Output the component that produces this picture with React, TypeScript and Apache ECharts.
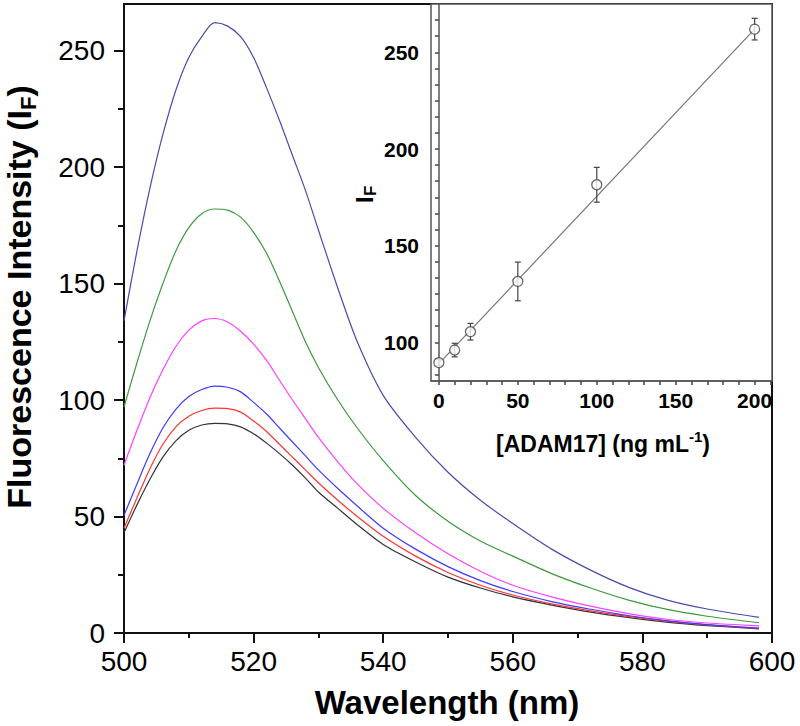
import React, { useEffect, useRef } from "react";
import * as echarts from "echarts";

// ---- Main spectra data ----
const wavelengths = [500, 502, 504, 506, 508, 510, 512, 514, 516, 518, 520, 522, 524, 526, 528, 530, 533, 536, 540, 545, 550, 555, 560, 566, 572, 578, 584, 590, 598];
const spec0 = [43, 55, 66, 75.5, 82.5, 87, 89.3, 90, 89.8, 88.5, 85.5, 81.5, 77, 72, 66.5, 60.5, 53.5, 46.5, 38, 30.5, 24, 19.3, 15.5, 12, 9, 6.6, 4.6, 3.2, 1.8];
const spec10 = [45, 58, 70.5, 81, 88.5, 93, 95.5, 96.5, 96.3, 94.8, 91, 86.5, 81, 75.5, 70, 64.5, 57, 50, 41.5, 33, 26, 20.5, 16.3, 12.5, 9.5, 7, 5, 3.5, 2];
const spec20 = [50.5, 64, 77, 88, 96, 101.5, 104.5, 106, 105.5, 103.5, 99, 94, 88, 82, 76, 70, 62, 54.5, 45, 36, 28.5, 22.5, 17.8, 13.5, 10.2, 7.4, 5.2, 3.6, 2.1];
const spec50 = [72, 87, 101, 113, 123, 130, 134, 135, 133.5, 129.5, 124, 117, 108.5, 100, 92, 84, 73.5, 64, 53.5, 43, 34, 26.5, 20.5, 15.5, 11.5, 8.2, 5.8, 4.3, 3.1];
const spec100 = [97, 116, 134, 150, 164, 174, 180, 182, 181.5, 178.5, 172, 163, 151, 138, 125, 114, 100, 88, 74, 59, 48, 39.5, 33, 25.5, 19.3, 14, 10, 7.2, 4.4];
const spec200 = [134, 164, 191, 214, 233, 247, 256, 262, 260.5, 256, 247, 234, 220, 205, 190, 173, 148, 125, 102, 84, 69, 57, 47, 36, 27, 19.5, 14, 10.3, 6.7];
const specColors = ["#333333", "#ff3333", "#3c3cff", "#ff40ff", "#3c9a3c", "#4a4aad"];
const mainYTicks = [0, 50, 100, 150, 200, 250];
const mainYMinor = [25, 75, 125, 175, 225];

// ---- Inset data ----
const concentrations = [0, 10, 20, 50, 100, 200];
const meanIF = [89.5, 96, 105.5, 131.5, 181.5, 262];
const errIF = [1.5, 3.5, 4.3, 10, 9, 5.6];
const fitX = [0, 200];
const fitY = [89, 262];
const insetXLabels = [0, 50, 100, 150, 200];
const insetYLabels = [100, 150, 200, 250];

const FONT = "'Liberation Sans', Arial, sans-serif";

function measure(text: string, font: string): number {
  const c = document.createElement("canvas");
  const ctx = c.getContext("2d");
  if (!ctx) return text.length * 18;
  ctx.font = font;
  return ctx.measureText(text).width;
}

export default function App() {
  const ref = useRef<HTMLDivElement>(null);
  useEffect(() => {
    if (!ref.current) return;
    const chart = echarts.init(ref.current, null, { renderer: "svg" });
    const specs = [spec0, spec10, spec20, spec50, spec100, spec200];
    const insetXTicks: number[] = [];
    for (let v = 0; v <= 210; v += 10) insetXTicks.push(v);
    const insetYTicks: number[] = [];
    for (let k = -2; k <= 20; k++) insetYTicks.push(+(100 + (k * 50) / 6).toFixed(3));

    // y-axis title pieces (rotated group)
    const fBig = `bold 34px ${FONT}`;
    const fSub = `bold 22px ${FONT}`;
    const t1 = "Fluorescence Intensity (I";
    const t2 = "F";
    const t3 = ")";
    const w1 = measure(t1, fBig);
    const w2 = measure(t2, fSub);
    const w3 = measure(t3, fBig);
    const W = w1 + w2 + w3;

    const option: any = {
      animation: false,
      backgroundColor: "#ffffff",
      grid: [
        { left: 124, right: 28, top: 4, bottom: 93, show: true, borderColor: "#111", borderWidth: 2, backgroundColor: "transparent" },
        { left: 431, right: 28, top: 4, bottom: 345, show: true, borderColor: "#555", borderWidth: 1.5, backgroundColor: "#ffffff" },
      ],
      xAxis: [
        {
          type: "value", gridIndex: 0, min: 500, max: 600, interval: 20,
          axisLine: { show: true, lineStyle: { color: "#111", width: 2 } },
          axisTick: { show: true, inside: false, length: 10, lineStyle: { color: "#111", width: 2 } },
          minorTick: { show: true, splitNumber: 2, length: 5, lineStyle: { color: "#111", width: 2 } },
          splitLine: { show: false }, minorSplitLine: { show: false },
          axisLabel: { fontSize: 28, fontFamily: FONT, color: "#000", margin: 14 },
        },
        {
          type: "value", gridIndex: 1, min: -5, max: 211,
          axisLine: { show: true, lineStyle: { color: "#555", width: 1.5 } },
          axisTick: { show: true, inside: false, length: 4, customValues: insetXTicks, lineStyle: { color: "#444", width: 1.5 } },
          splitLine: { show: false },
          axisLabel: { customValues: insetXLabels, fontSize: 21, fontWeight: "bold", fontFamily: FONT, color: "#000", margin: 9 },
        },
      ],
      yAxis: [
        {
          type: "value", gridIndex: 0, min: 0, max: 270, position: "left",
          axisLine: { show: true, lineStyle: { color: "#111", width: 2 } },
          axisTick: { show: true, inside: false, length: 10, customValues: mainYTicks, lineStyle: { color: "#111", width: 2 } },
          splitLine: { show: false },
          axisLabel: { customValues: mainYTicks, fontSize: 28, fontFamily: FONT, color: "#000", margin: 19 },
        },
        {
          type: "value", gridIndex: 0, min: 0, max: 270, position: "left",
          axisLine: { show: false },
          axisTick: { show: true, inside: false, length: 6, customValues: mainYMinor, lineStyle: { color: "#111", width: 2 } },
          splitLine: { show: false },
          axisLabel: { show: false },
        },
        {
          type: "value", gridIndex: 1, min: 80, max: 275, position: "left",
          axisLine: { show: true, lineStyle: { color: "#555", width: 1.5 } },
          axisTick: { show: true, inside: false, length: 4, customValues: insetYTicks, lineStyle: { color: "#444", width: 1.5 } },
          splitLine: { show: false },
          axisLabel: { customValues: insetYLabels, fontSize: 21, fontWeight: "bold", fontFamily: FONT, color: "#000", margin: 12 },
        },
      ],
      series: [
        ...specs.map((s, i) => ({
          type: "line", xAxisIndex: 0, yAxisIndex: 0,
          data: wavelengths.map((w, j) => [w, s[j]]),
          showSymbol: false, smooth: 0.3,
          lineStyle: { color: specColors[i], width: 1.2 },
          z: 2,
        })),
        {
          type: "line", xAxisIndex: 1, yAxisIndex: 2,
          data: fitX.map((x, i) => [x, fitY[i]]),
          showSymbol: false,
          lineStyle: { color: "#777", width: 1.2 },
          z: 3,
        },
        {
          type: "custom", xAxisIndex: 1, yAxisIndex: 2,
          data: concentrations.map((c, i) => [c, meanIF[i], errIF[i]]),
          renderItem: (params: any, api: any) => {
            const x = api.value(0), y = api.value(1), e = api.value(2);
            const top = api.coord([x, y + e]);
            const bot = api.coord([x, y - e]);
            const w = 3;
            const st = { stroke: "#444", lineWidth: 1.2 };
            return {
              type: "group",
              children: [
                { type: "line", shape: { x1: top[0], y1: top[1], x2: bot[0], y2: bot[1] }, style: st },
                { type: "line", shape: { x1: top[0] - w, y1: top[1], x2: top[0] + w, y2: top[1] }, style: st },
                { type: "line", shape: { x1: bot[0] - w, y1: bot[1], x2: bot[0] + w, y2: bot[1] }, style: st },
              ],
            };
          },
          z: 4,
        },
        {
          type: "scatter", xAxisIndex: 1, yAxisIndex: 2,
          data: concentrations.map((c, i) => [c, meanIF[i]]),
          symbol: "circle", symbolSize: 10,
          itemStyle: { color: "#ffffff", borderColor: "#444", borderWidth: 1.3 },
          z: 5,
        },
      ],
      graphic: [
        {
          type: "text", x: 447, y: 702,
          style: { text: "Wavelength (nm)", font: `bold 33px ${FONT}`, fill: "#000", align: "center", verticalAlign: "middle" },
        },
        {
          type: "group", x: 19, y: 297, rotation: Math.PI / 2,
          children: [
            { type: "text", x: -W / 2, y: 0, style: { text: t1, font: fBig, fill: "#000", align: "left", verticalAlign: "middle" } },
            { type: "text", x: -W / 2 + w1, y: 9, style: { text: t2, font: fSub, fill: "#000", align: "left", verticalAlign: "middle" } },
            { type: "text", x: -W / 2 + w1 + w2, y: 0, style: { text: t3, font: fBig, fill: "#000", align: "left", verticalAlign: "middle" } },
          ],
        },
        {
          type: "text", x: 603, y: 444,
          style: {
            text: "{a|[ADAM17] (ng mL}{b|-1}{c|)}",
            align: "center", verticalAlign: "middle",
            rich: {
              a: { fontSize: 23, fontWeight: "bold", fontFamily: FONT, fill: "#000", color: "#000", lineHeight: 30, verticalAlign: "middle" },
              b: { fontSize: 15, fontWeight: "bold", fontFamily: FONT, fill: "#000", color: "#000", lineHeight: 15, verticalAlign: "top" },
              c: { fontSize: 23, fontWeight: "bold", fontFamily: FONT, fill: "#000", color: "#000", lineHeight: 30, verticalAlign: "middle" },
            },
          },
        },
        {
          type: "group", x: 364, y: 194, rotation: Math.PI / 2,
          children: [
            { type: "text", x: -9, y: 0, style: { text: "I", font: `bold 24px ${FONT}`, fill: "#000", align: "left", verticalAlign: "middle" } },
            { type: "text", x: -2, y: 6, style: { text: "F", font: `bold 17px ${FONT}`, fill: "#000", align: "left", verticalAlign: "middle" } },
          ],
        },
      ],
    };
    chart.setOption(option);
    return () => chart.dispose();
  }, []);
  return (
    <div
      ref={ref}
      style={{ position: "fixed", left: 0, top: 0, width: 800, height: 726, background: "#fff" }}
    />
  );
}
